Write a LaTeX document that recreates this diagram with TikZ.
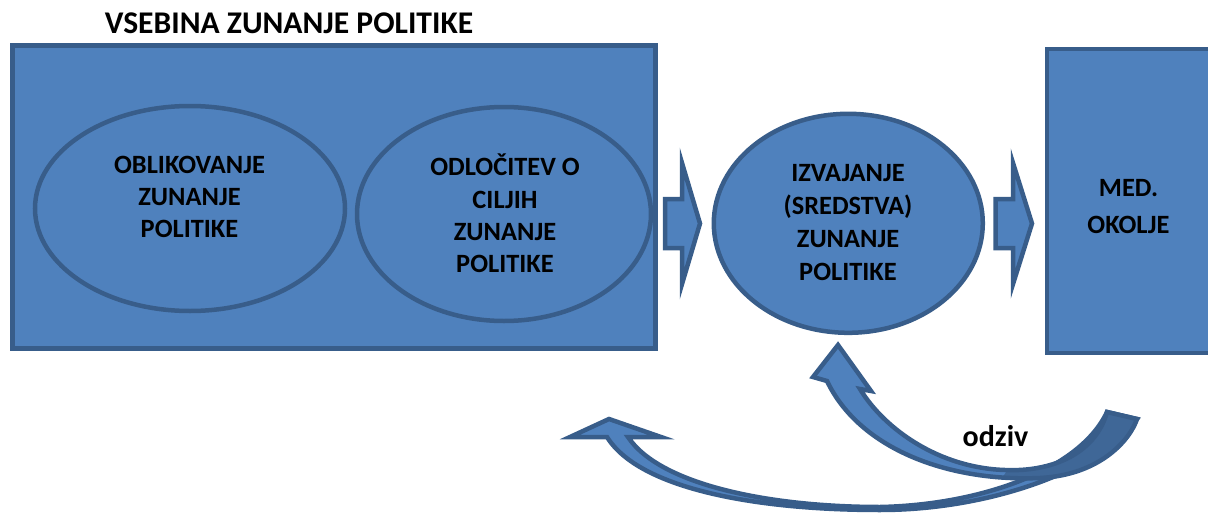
\documentclass[tikz,border=0pt]{standalone}
\usepackage{fontspec}
\setmainfont{Carlito}
\usetikzlibrary{shapes.geometric}
\definecolor{boxfill}{HTML}{4F81BD}
\definecolor{boxline}{HTML}{385D8A}
\definecolor{tailfill}{HTML}{3F6797}
\tikzset{
  shapebox/.style={draw=boxline, fill=boxfill, line width=4.5pt, inner sep=0pt},
  lbl/.style={align=center, inner sep=0pt, text depth=0pt, anchor=south},
  bigfont/.style={font=\bfseries\fontsize{26.4}{32.3}\selectfont},
}
\newcommand\upperarrowpath{(838,345) -- (871,391) -- (860,389) .. controls (885,430) and (940,468) .. (1005,470) .. controls (1050,472) and (1095,455) .. (1107,412) -- (1137,419) .. controls (1130,440) and (1100,475) .. (1040,478) .. controls (950,482) and (860,450) .. (827,381) -- (813,377) -- cycle}
\begin{document}
\begin{tikzpicture}[x=1pt,y=-1pt,line join=miter]
\useasboundingbox (0,0) rectangle (1208,514);
% main shapes
\node[rectangle, shapebox, minimum width=643pt, minimum height=303pt] (vsebina) at (334,197) {};
\node[ellipse, shapebox, minimum width=310pt, minimum height=205pt] (obl) at (190,208.5) {};
\node[ellipse, shapebox, minimum width=294pt, minimum height=214pt] (odl) at (504,214) {};
\node[ellipse, shapebox, minimum width=269pt, minimum height=219pt] (izv) at (848.3,223.3) {};
\node[rectangle, shapebox, minimum width=163pt, minimum height=304pt] (okolje) at (1128.5,201) {};
% texts
\node[font=\bfseries\fontsize{31.6}{36}\selectfont, inner sep=0pt, anchor=base] (title) at (289,33) {VSEBINA ZUNANJE POLITIKE};
\node[lbl, bigfont] (tobl) at (189.5,238) {OBLIKOVANJE\\ZUNANJE\\POLITIKE};
\node[lbl, bigfont] (todl) at (505,273) {ODLOČITEV O\\CILJIH\\ZUNANJE\\POLITIKE};
\node[lbl, font=\bfseries\fontsize{26.4}{33}\selectfont] (tizv) at (848,280.7) {IZVAJANJE\\(SREDSTVA)\\ZUNANJE\\POLITIKE};
\node[lbl, font=\bfseries\fontsize{26.4}{36.3}\selectfont] (tokolje) at (1128.5,233.3) {MED.\\OKOLJE};
\node[font=\bfseries\fontsize{30}{34}\selectfont, inner sep=0pt, anchor=base] (odziv) at (995.5,446) {odziv};
% block arrows
\coordinate (a1) at (665,223.5);
\coordinate (a2) at (995.5,223.5);
\draw[shapebox] (a1) ++(0,-24.5) -- ++(17,0) -- ++(0,-36) -- ++(18,60.5) -- ++(-18,60.5) -- ++(0,-36) -- ++(-17,0) -- cycle;
\draw[shapebox] (a2) ++(0,-24.5) -- ++(17.5,0) -- ++(0,-36) -- ++(19,60.5) -- ++(-19,60.5) -- ++(0,-36) -- ++(-17.5,0) -- cycle;
% lower curved arrow
\draw[shapebox] (607,437) .. controls (640,490) and (760,510) .. (880,510) .. controls (990,510) and (1100,470) .. (1137,419) -- (1107,412) .. controls (1080,470) and (980,505) .. (880,507) .. controls (770,507) and (660,485) .. (628,437) -- (661,437) -- (609,419) -- (570,437) -- cycle;
% upper curved arrow
\fill[boxfill] \upperarrowpath;
\begin{scope}
  \clip \upperarrowpath;
  \fill[tailfill] (985,500) -- (1065,395) -- (1160,395) -- (1160,500) -- cycle;
\end{scope}
\draw[draw=boxline, line width=4.5pt] \upperarrowpath;
\end{tikzpicture}
\end{document}
